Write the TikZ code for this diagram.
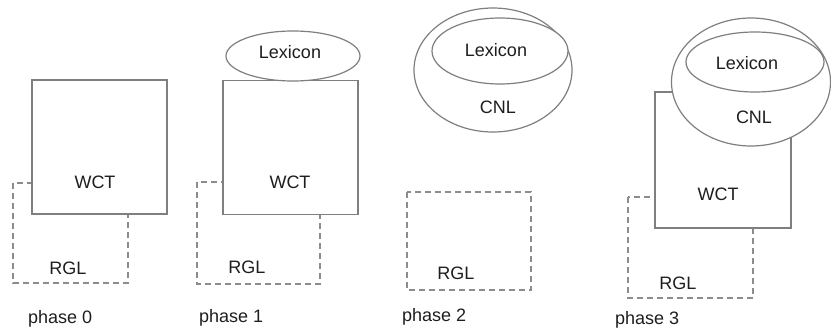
\documentclass[tikz,border=0pt]{standalone}
\usepackage{fontspec}
\setmainfont{Liberation Sans}
\usetikzlibrary{shapes.geometric}
\definecolor{lineg}{HTML}{7F7F7F}
\definecolor{dashg}{HTML}{8C8C8C}
\definecolor{txt}{HTML}{1E1E1E}
\begin{document}
\begin{tikzpicture}[x=1pt,y=-1pt,
  every node/.style={inner sep=0pt,outer sep=0pt},
  lbl/.style={text=txt,font=\fontsize{18}{20}\selectfont},
  wct/.style={rectangle,draw=lineg,line width=1.5pt,fill=white,minimum width=135pt,minimum height=134pt},
  rgl/.style={draw=dashg,line width=1.5pt,dash pattern=on 6pt off 4pt},
  ell/.style={ellipse,draw=lineg,line width=1.2pt,fill=white}]
\useasboundingbox (0,0) rectangle (831,329);
% phase 0
\coordinate (r0a) at (13,183); \coordinate (r0b) at (128,283);
\draw[rgl] (r0a) rectangle (r0b);
\node[wct] (w0) at (99.5,147) {};
\node[lbl] (w0t) at (95,182) {WCT};
\node[lbl] (r0t) at (68,268) {RGL};
\node[lbl,anchor=west] (p0) at (28,319) {phase 0};
% phase 1
\coordinate (r1a) at (197,182); \coordinate (r1b) at (320,284);
\draw[rgl] (r1a) rectangle (r1b);
\node[wct] (w1) at (290.5,147.5) {};
\node[ell,minimum width=134pt,minimum height=50pt] (l1) at (293,56) {};
\node[lbl] (l1t) at (290,52) {Lexicon};
\node[lbl] (w1t) at (290,182) {WCT};
\node[lbl] (r1t) at (247,267) {RGL};
\node[lbl,anchor=west] (p1) at (199,318) {phase 1};
% phase 2
\coordinate (r2a) at (407,192); \coordinate (r2b) at (531,290);
\draw[rgl] (r2a) rectangle (r2b);
\node[ell,minimum width=158pt,minimum height=124pt] (c2) at (493,70) {};
\node[ell,minimum width=136pt,minimum height=66pt] (l2) at (500,51) {};
\node[lbl] (l2t) at (496,50) {Lexicon};
\node[lbl] (c2t) at (498,107) {CNL};
\node[lbl] (r2t) at (456,273) {RGL};
\node[lbl,anchor=west] (p2) at (402,317) {phase 2};
% phase 3
\coordinate (r3a) at (628,197); \coordinate (r3b) at (753,298);
\draw[rgl] (r3a) rectangle (r3b);
\node[wct,minimum width=136pt,minimum height=136pt] (w3) at (723,160) {};
\node[ell,minimum width=159pt,minimum height=128pt] (c3) at (751,82) {};
\node[ell,minimum width=138pt,minimum height=60pt] (l3) at (755,62) {};
\node[lbl] (l3t) at (747,63) {Lexicon};
\node[lbl] (c3t) at (754,117) {CNL};
\node[lbl] (w3t) at (718,194) {WCT};
\node[lbl] (r3t) at (678,283) {RGL};
\node[lbl,anchor=west] (p3) at (615,320) {phase 3};
\end{tikzpicture}
\end{document}
